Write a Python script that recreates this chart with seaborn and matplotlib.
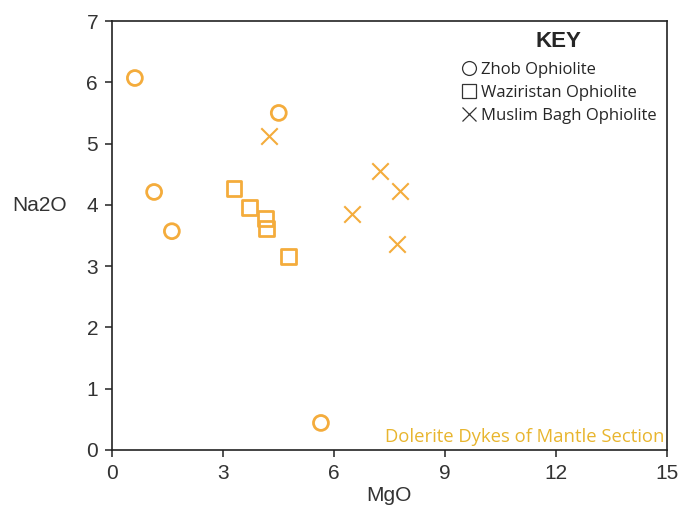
import matplotlib as mpl
mpl.use('Agg')
import matplotlib.pyplot as plt
from matplotlib.lines import Line2D
import pandas as pd
import seaborn as sns

# values
zhob_mgo = [0.62, 1.14, 1.62, 4.51, 5.65]
zhob_na2o = [6.07, 4.21, 3.57, 5.50, 0.44]
waz_mgo = [3.30, 3.73, 4.16, 4.19, 4.78]
waz_na2o = [4.26, 3.96, 3.77, 3.62, 3.16]
mb_mgo = [4.24, 6.49, 7.24, 7.78, 7.70]
mb_na2o = [5.12, 3.85, 4.55, 4.22, 3.36]
groups = ['Zhob Ophiolite', 'Waziristan Ophiolite', 'Muslim Bagh Ophiolite']

df = pd.DataFrame({
    'MgO': zhob_mgo + waz_mgo + mb_mgo,
    'Na2O': zhob_na2o + waz_na2o + mb_na2o,
    'group': [groups[0]] * 5 + [groups[1]] * 5 + [groups[2]] * 5,
})

sns.set_style('ticks')
plt.rcParams['font.family'] = ['Liberation Sans', 'DejaVu Sans']

orange = '#F4AC3C'

fig = plt.figure(figsize=(6.91, 5.13), dpi=100)
ax = fig.add_axes([0.162, 0.123, 0.803, 0.836])

sub = df[df['group'] == groups[0]]
sns.scatterplot(x='MgO', y='Na2O', data=sub, marker='o', s=115,
                facecolor='none', edgecolor=orange, linewidth=2, ax=ax)
sub = df[df['group'] == groups[1]]
sns.scatterplot(x='MgO', y='Na2O', data=sub, marker='s', s=115,
                facecolor='none', edgecolor=orange, linewidth=2, ax=ax)
sub = df[df['group'] == groups[2]]
sns.scatterplot(x='MgO', y='Na2O', data=sub, marker='x', s=140,
                color=orange, linewidth=1.5, ax=ax)

ax.set_xlim(0, 15)
ax.set_ylim(0, 7)
ax.set_xticks([0, 3, 6, 9, 12, 15])
ax.set_yticks(range(8))
ax.tick_params(labelsize=15, length=5, width=1.2, colors='#333333', pad=5)
for sp in ax.spines.values():
    sp.set_linewidth(1.2)
    sp.set_color('#222222')

ax.set_xlabel('MgO', fontsize=15, color='#333333', labelpad=2)
ax.set_ylabel('Na2O', fontsize=15, color='#333333', rotation=0, ha='center', va='center')
ax.yaxis.set_label_coords(-0.13, 0.571)

# key
handles = [Line2D([], [], marker=m, ls='none', color='#333333',
                  markerfacecolor='none', markersize=10, markeredgewidth=0.9)
           for m in ['o', 's', 'x']]
leg = ax.legend(handles, groups, title='KEY', loc='upper right', frameon=False,
                prop={'family': 'Open Sans', 'size': 12}, handletextpad=0.2,
                handlelength=1.1, labelspacing=0.42, borderaxespad=0.2,
                title_fontproperties={'family': 'Liberation Sans', 'weight': 'bold', 'size': 16})
leg._legend_box.sep = 7

ax.text(14.95, 0.06, 'Dolerite Dykes of Mantle Section', ha='right', va='bottom',
        color='#E8B52E', fontsize=13.3, family='Open Sans')

plt.savefig('out.png', dpi=100)
